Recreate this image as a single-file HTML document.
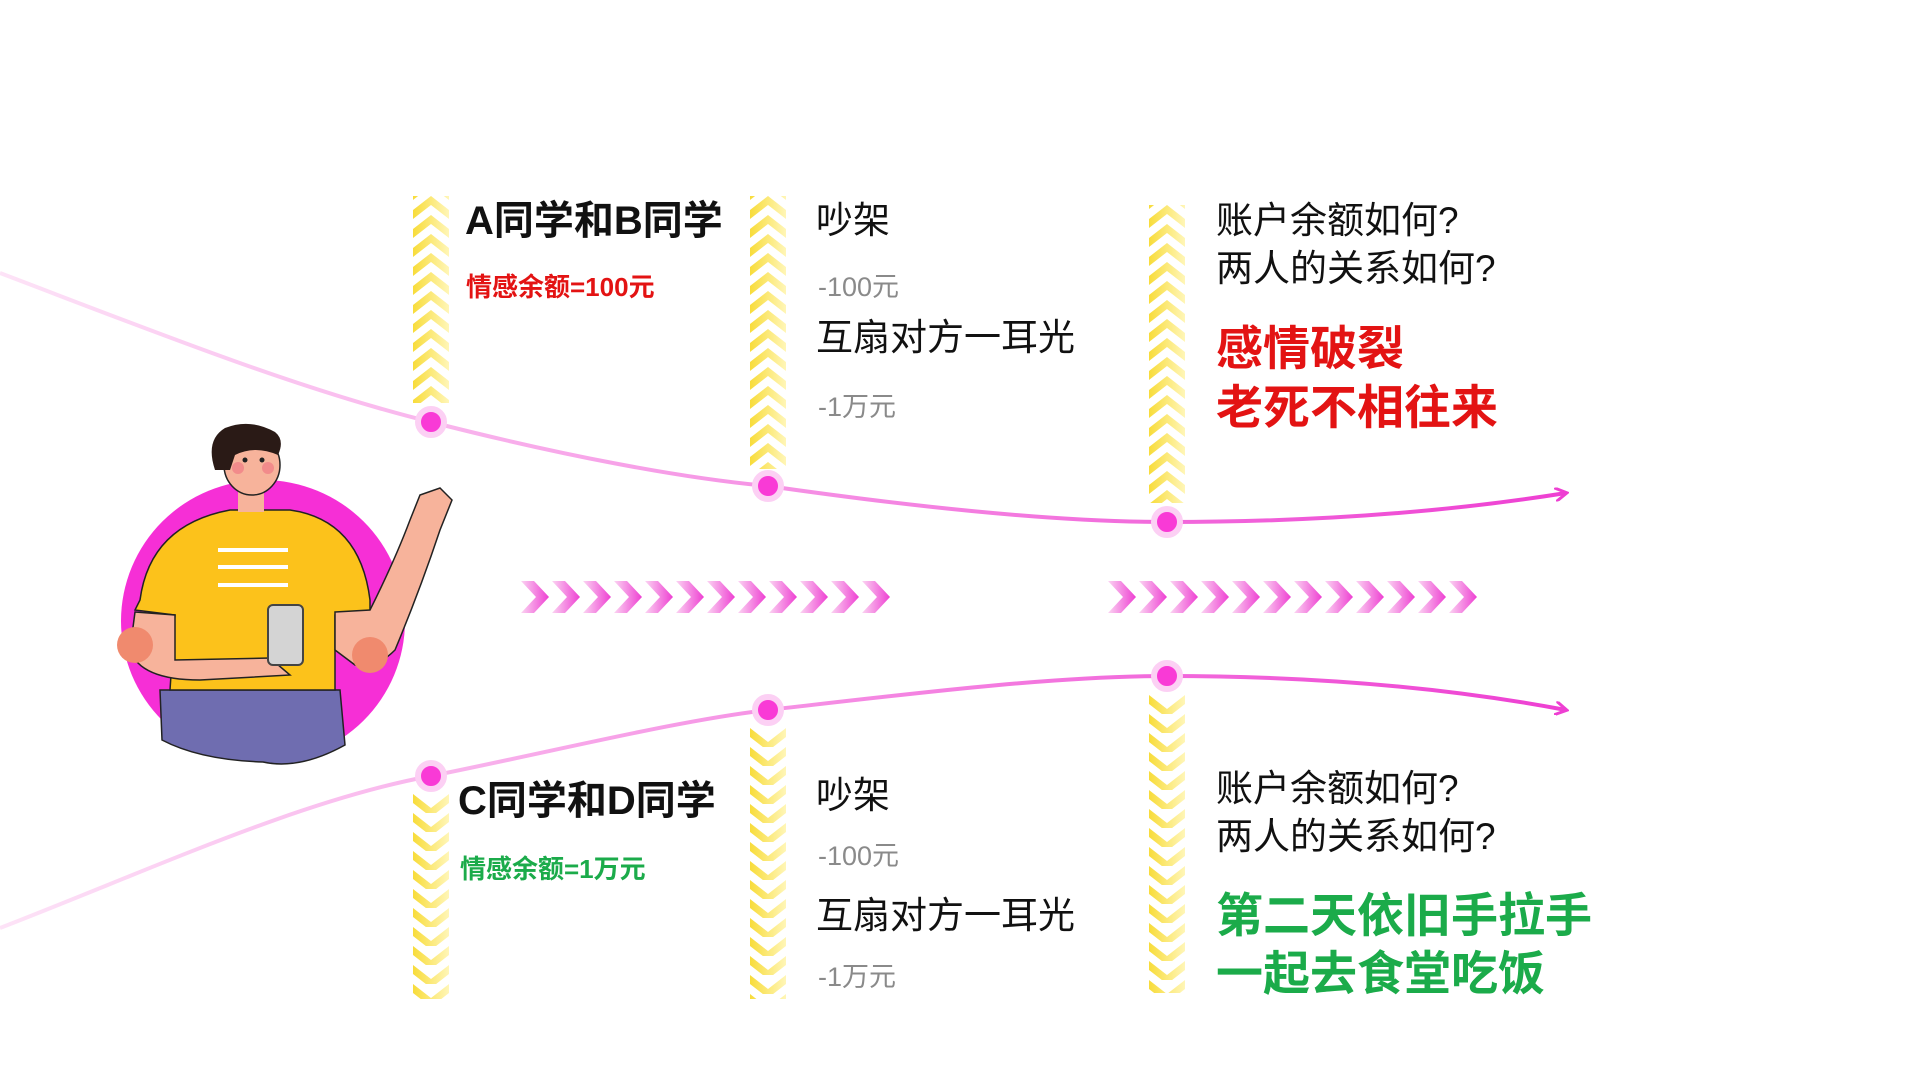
<!DOCTYPE html>
<html><head><meta charset="utf-8"><style>
html,body{margin:0;padding:0;background:#fff;}
svg{display:block;font-family:"Liberation Sans","Noto Sans CJK SC",sans-serif;}
</style></head><body>
<svg width="1920" height="1080" viewBox="0 0 1920 1080" xmlns="http://www.w3.org/2000/svg">
<defs>
<linearGradient id="yg" x1="0" y1="0" x2="1" y2="0"><stop offset="0" stop-color="#f8dc3a"/><stop offset="1" stop-color="#fff6b8"/></linearGradient>
<linearGradient id="pg" x1="0" y1="0" x2="1" y2="0"><stop offset="0" stop-color="#fbd4f2"/><stop offset="1" stop-color="#ee3fd2"/></linearGradient>
<linearGradient id="lg1" x1="0" y1="0" x2="1" y2="0"><stop offset="0" stop-color="#fde3f7"/><stop offset="1" stop-color="#ee3fd2"/></linearGradient>
<pattern id="upc" x="0" y="0" width="36" height="19" patternUnits="userSpaceOnUse"><polygon points="0,14 18,0 36,14 36,23 18,9 0,23" fill="url(#yg)"/><polygon points="0,-5 18,-19 36,-5 36,4 18,-10 0,4" fill="url(#yg)"/></pattern>
<pattern id="dnc" x="0" y="0" width="36" height="19" patternUnits="userSpaceOnUse"><polygon points="0,0 18,14 36,0 36,9 18,23 0,9" fill="url(#yg)"/><polygon points="0,19 18,33 36,19 36,28 18,42 0,28" fill="url(#yg)"/></pattern>
<pattern id="rc" x="0" y="0" width="31" height="32" patternUnits="userSpaceOnUse"><polygon points="0,0 13,0 28,16 13,32 0,32 15,16" fill="url(#pg)"/></pattern>
<marker id="ah" markerWidth="14" markerHeight="14" refX="11" refY="7" orient="auto" markerUnits="userSpaceOnUse"><path d="M0,0 L12,7 L0,14" fill="none" stroke="#ee3fd2" stroke-width="3"/></marker>
</defs>

<!-- yellow chevron columns -->
<g transform="translate(413,196)"><rect width="36" height="207" fill="url(#upc)"/></g>
<g transform="translate(750,196)"><rect width="36" height="273" fill="url(#upc)"/></g>
<g transform="translate(1149,205)"><rect width="36" height="298" fill="url(#upc)"/></g>
<g transform="translate(413,794)"><rect width="36" height="205" fill="url(#dnc)"/></g>
<g transform="translate(750,728)"><rect width="36" height="271" fill="url(#dnc)"/></g>
<g transform="translate(1149,695)"><rect width="36" height="298" fill="url(#dnc)"/></g>

<!-- pink chevrons -->
<g transform="translate(521,581)"><rect width="372" height="32" fill="url(#rc)"/></g>
<g transform="translate(1108,581)"><rect width="372" height="32" fill="url(#rc)"/></g>

<!-- lines -->
<path d="M0,273 C150,330 300,390 431,422 C560,455 680,478 768,486 C900,505 1050,522 1167,522 C1330,522 1460,510 1566,493" fill="none" stroke="url(#lg1)" stroke-width="4" marker-end="url(#ah)"/>
<path d="M0,928 C150,870 300,800 431,776 C560,750 680,720 768,710 C900,695 1050,676 1167,676 C1330,676 1460,690 1566,710" fill="none" stroke="url(#lg1)" stroke-width="4" marker-end="url(#ah)"/>

<!-- dots -->
<g fill="#f93ad6" stroke="#fcd0f4" stroke-width="6">
<circle cx="431" cy="422" r="13"/><circle cx="768" cy="486" r="13"/><circle cx="1167" cy="522" r="13"/>
<circle cx="431" cy="776" r="13"/><circle cx="768" cy="710" r="13"/><circle cx="1167" cy="676" r="13"/>
</g>

<!-- person -->
<ellipse cx="263" cy="621" rx="142" ry="141" fill="#f62fd6"/>
<path d="M160,690 L340,690 L345,745 Q300,770 263,762 Q200,760 162,740 Z" fill="#6f6db0" stroke="#222" stroke-width="1.5"/>
<path d="M140,600 Q150,525 230,510 L290,510 Q360,520 370,600 L370,610 L335,615 L335,690 L170,690 L175,615 L135,610 Z" fill="#fcc21b" stroke="#222" stroke-width="1.5"/>
<rect x="218" y="548" width="70" height="4" fill="#fff"/><rect x="218" y="565" width="70" height="4" fill="#fff"/><rect x="218" y="583" width="70" height="4" fill="#fff"/>
<path d="M135,612 L175,615 L175,660 L270,658 L290,675 L200,680 Q140,680 130,650 Z" fill="#f7b39b" stroke="#222" stroke-width="1.5"/>
<path d="M335,612 L370,610 Q395,560 410,520 L420,495 L440,488 L452,500 L440,530 Q420,590 395,650 Q375,670 355,665 L335,650 Z" fill="#f7b39b" stroke="#222" stroke-width="1.5"/>
<rect x="268" y="605" width="35" height="60" rx="5" fill="#d4d4d4" stroke="#444" stroke-width="2"/>
<circle cx="135" cy="645" r="18" fill="#f08a6e"/><circle cx="370" cy="655" r="18" fill="#f08a6e"/>
<rect x="238" y="480" width="26" height="32" fill="#f7b39b"/>
<ellipse cx="252" cy="465" rx="28" ry="30" fill="#f7b39b" stroke="#222" stroke-width="1.5"/>
<path d="M215,470 Q205,440 225,428 Q250,418 275,432 Q285,440 278,455 Q255,445 235,455 L230,470 Z" fill="#2a1a16"/>
<circle cx="238" cy="468" r="6" fill="#f28b8b"/><circle cx="268" cy="468" r="6" fill="#f28b8b"/>
<circle cx="245" cy="460" r="2.5" fill="#222"/><circle cx="262" cy="460" r="2.5" fill="#222"/>

<!-- text top -->
<text x="465" y="234" font-size="40" font-weight="bold" fill="#111">A同学和B同学</text>
<text x="466" y="296" font-size="26" font-weight="bold" fill="#e31313">情感余额=100元</text>
<text x="816" y="233" font-size="37" fill="#111">吵架</text>
<text x="818" y="296" font-size="27" fill="#8a8a8a">-100元</text>
<text x="816" y="350" font-size="37" fill="#111">互扇对方一耳光</text>
<text x="818" y="416" font-size="27" fill="#8a8a8a">-1万元</text>
<text x="1216" y="233" font-size="37" fill="#111">账户余额如何?</text>
<text x="1216" y="281" font-size="37" fill="#111">两人的关系如何?</text>
<text x="1216" y="365" font-size="47" font-weight="bold" fill="#e31313">感情破裂</text>
<text x="1216" y="424" font-size="47" font-weight="bold" fill="#e31313">老死不相往来</text>

<!-- text bottom -->
<text x="458" y="814" font-size="40" font-weight="bold" fill="#111">C同学和D同学</text>
<text x="460" y="878" font-size="26" font-weight="bold" fill="#1bab4a">情感余额=1万元</text>
<text x="816" y="808" font-size="37" fill="#111">吵架</text>
<text x="818" y="865" font-size="27" fill="#8a8a8a">-100元</text>
<text x="816" y="928" font-size="37" fill="#111">互扇对方一耳光</text>
<text x="818" y="986" font-size="27" fill="#8a8a8a">-1万元</text>
<text x="1216" y="801" font-size="37" fill="#111">账户余额如何?</text>
<text x="1216" y="849" font-size="37" fill="#111">两人的关系如何?</text>
<text x="1216" y="932" font-size="47" font-weight="bold" fill="#1bab4a">第二天依旧手拉手</text>
<text x="1216" y="990" font-size="47" font-weight="bold" fill="#1bab4a">一起去食堂吃饭</text>
</svg>
</body></html>
